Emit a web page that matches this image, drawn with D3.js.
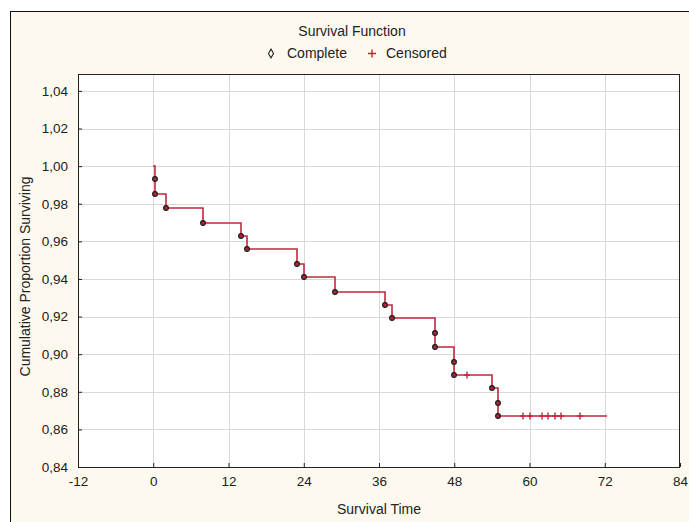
<!DOCTYPE html>
<html>
<head>
<meta charset="utf-8">
<script src="https://cdn.jsdelivr.net/npm/d3@7"></script>
<style>
  body { margin: 0; background: #fff; }
  text { font-family: "Liberation Sans", Arial, sans-serif; fill: #222; }
</style>
</head>
<body>
<div id="vis"></div>
<script>
// Kaplan-Meier data
const eventTimes = [0.3, 0.3, 2, 8, 14, 15, 23, 24, 29, 37, 38, 45, 45, 48, 48, 54, 55, 55];
const eventSurv = [0.993, 0.985, 0.978, 0.970, 0.963, 0.956, 0.948, 0.941, 0.933, 0.926,
                   0.919, 0.911, 0.904, 0.896, 0.889, 0.882, 0.874, 0.867];
const censorTimes = [50, 59, 60, 62, 63, 64, 65, 68];
const censorSurv = [0.889, 0.867, 0.867, 0.867, 0.867, 0.867, 0.867, 0.867];
const lastTime = 72.3;

const xTicks = [-12, 0, 12, 24, 36, 48, 60, 72, 84];
const yTicks = [0.84, 0.86, 0.88, 0.90, 0.92, 0.94, 0.96, 0.98, 1.00, 1.02, 1.04];

const W = 689, H = 522;
const margin = {top: 74, right: 9, bottom: 55, left: 78};
const width = W - margin.left - margin.right;
const height = H - margin.top - margin.bottom;

const lineColor = '#c0283c';
const fmt = d => d3.format('.2f')(d).replace('.', ',');

const svg = d3.select('#vis').append('svg')
    .attr('width', W)
    .attr('height', H);

// outer frame with cream background
svg.append('rect')
    .attr('x', 10.5).attr('y', 11.5)
    .attr('width', W + 20).attr('height', H + 20)
    .attr('fill', '#fdf9ee')
    .attr('stroke', '#111');

const g = svg.append('g')
    .attr('transform', `translate(${margin.left},${margin.top})`);

const xScale = d3.scaleLinear().domain([-12, 84]).range([0, width]);
const yScale = d3.scaleLinear().domain([0.84, 1.049]).range([height, 0]);
const px = v => Math.round(v) + 0.5;

g.append('rect')
    .attr('width', width).attr('height', height)
    .attr('fill', '#fff');

// grid
g.selectAll('.vgrid').data(xTicks.slice(1, -1)).join('line')
    .attr('x1', d => px(xScale(d))).attr('x2', d => px(xScale(d)))
    .attr('y1', 0).attr('y2', height)
    .attr('stroke', '#d9d9d9');
g.selectAll('.hgrid').data(yTicks.slice(1)).join('line')
    .attr('y1', d => px(yScale(d))).attr('y2', d => px(yScale(d)))
    .attr('x1', 0).attr('x2', width)
    .attr('stroke', '#d9d9d9');

// axes (ticks inward)
const xAxis = d3.axisBottom(xScale).tickValues(xTicks).tickSize(-4).tickFormat(d => d).tickPadding(9);
const yAxis = d3.axisLeft(yScale).tickValues(yTicks).tickSize(-4).tickFormat(fmt).tickPadding(10);

const gx = g.append('g').attr('transform', `translate(0,${height})`).call(xAxis);
const gy = g.append('g').call(yAxis);
[gx, gy].forEach(a => {
  a.select('.domain').remove();
  a.selectAll('line').attr('stroke', '#222');
  a.selectAll('text').style('font-size', '13.5px').attr('fill', '#222');
});

// plot box
g.append('rect')
    .attr('x', 0.5).attr('y', 0.5)
    .attr('width', width - 1).attr('height', height)
    .attr('fill', 'none')
    .attr('stroke', '#222');

// survival step line
const pts = [{t: 0, s: 1}]
  .concat(eventTimes.map((t, i) => ({t, s: eventSurv[i]})))
  .concat([{t: lastTime, s: eventSurv[eventSurv.length - 1]}]);

const line = d3.line()
    .x(d => Math.round(xScale(d.t)))
    .y(d => Math.round(yScale(d.s)))
    .curve(d3.curveStepAfter);

g.append('path')
    .datum(pts)
    .attr('d', line)
    .attr('fill', 'none')
    .attr('stroke', lineColor)
    .attr('stroke-width', 1.6);

// complete markers
g.selectAll('.ev').data(eventTimes).join('circle')
    .attr('cx', d => Math.round(xScale(d)))
    .attr('cy', (d, i) => Math.round(yScale(eventSurv[i])))
    .attr('r', 2.4)
    .attr('fill', '#a8283a')
    .attr('stroke', '#1a1a1a')
    .attr('stroke-width', 1.1);

// censored markers
g.selectAll('.cen').data(censorTimes).join('path')
    .attr('transform', (d, i) => `translate(${Math.round(xScale(d))},${Math.round(yScale(censorSurv[i]))})`)
    .attr('d', 'M-3,0H3M0,-3.5V3.5')
    .attr('stroke', '#c0283c')
    .attr('stroke-width', 1.4);

// titles
svg.append('text')
    .attr('x', 352).attr('y', 36)
    .attr('text-anchor', 'middle')
    .style('font-size', '14px')
    .text('Survival Function');

// legend
svg.append('path')
    .attr('transform', 'translate(271,53.5)')
    .attr('d', d3.symbol(d3.symbolDiamond, 22)())
    .attr('fill', '#fff')
    .attr('stroke', '#222')
    .attr('stroke-width', 1.1);
svg.append('text')
    .attr('x', 287).attr('y', 58)
    .style('font-size', '14px')
    .text('Complete');
svg.append('path')
    .attr('transform', 'translate(372,53.5)')
    .attr('d', 'M-4,0H4M0,-4V4')
    .attr('stroke', '#cc2030')
    .attr('stroke-width', 1.4);
svg.append('text')
    .attr('x', 386).attr('y', 58)
    .style('font-size', '14px')
    .text('Censored');

svg.append('text')
    .attr('x', margin.left + xScale(36)).attr('y', 514)
    .attr('text-anchor', 'middle')
    .style('font-size', '14px')
    .text('Survival Time');

svg.append('text')
    .attr('transform', `translate(30,${margin.top + height / 2 + 6}) rotate(-90)`)
    .attr('text-anchor', 'middle')
    .style('font-size', '14px')
    .text('Cumulative Proportion Surviving');
</script>
</body>
</html>
